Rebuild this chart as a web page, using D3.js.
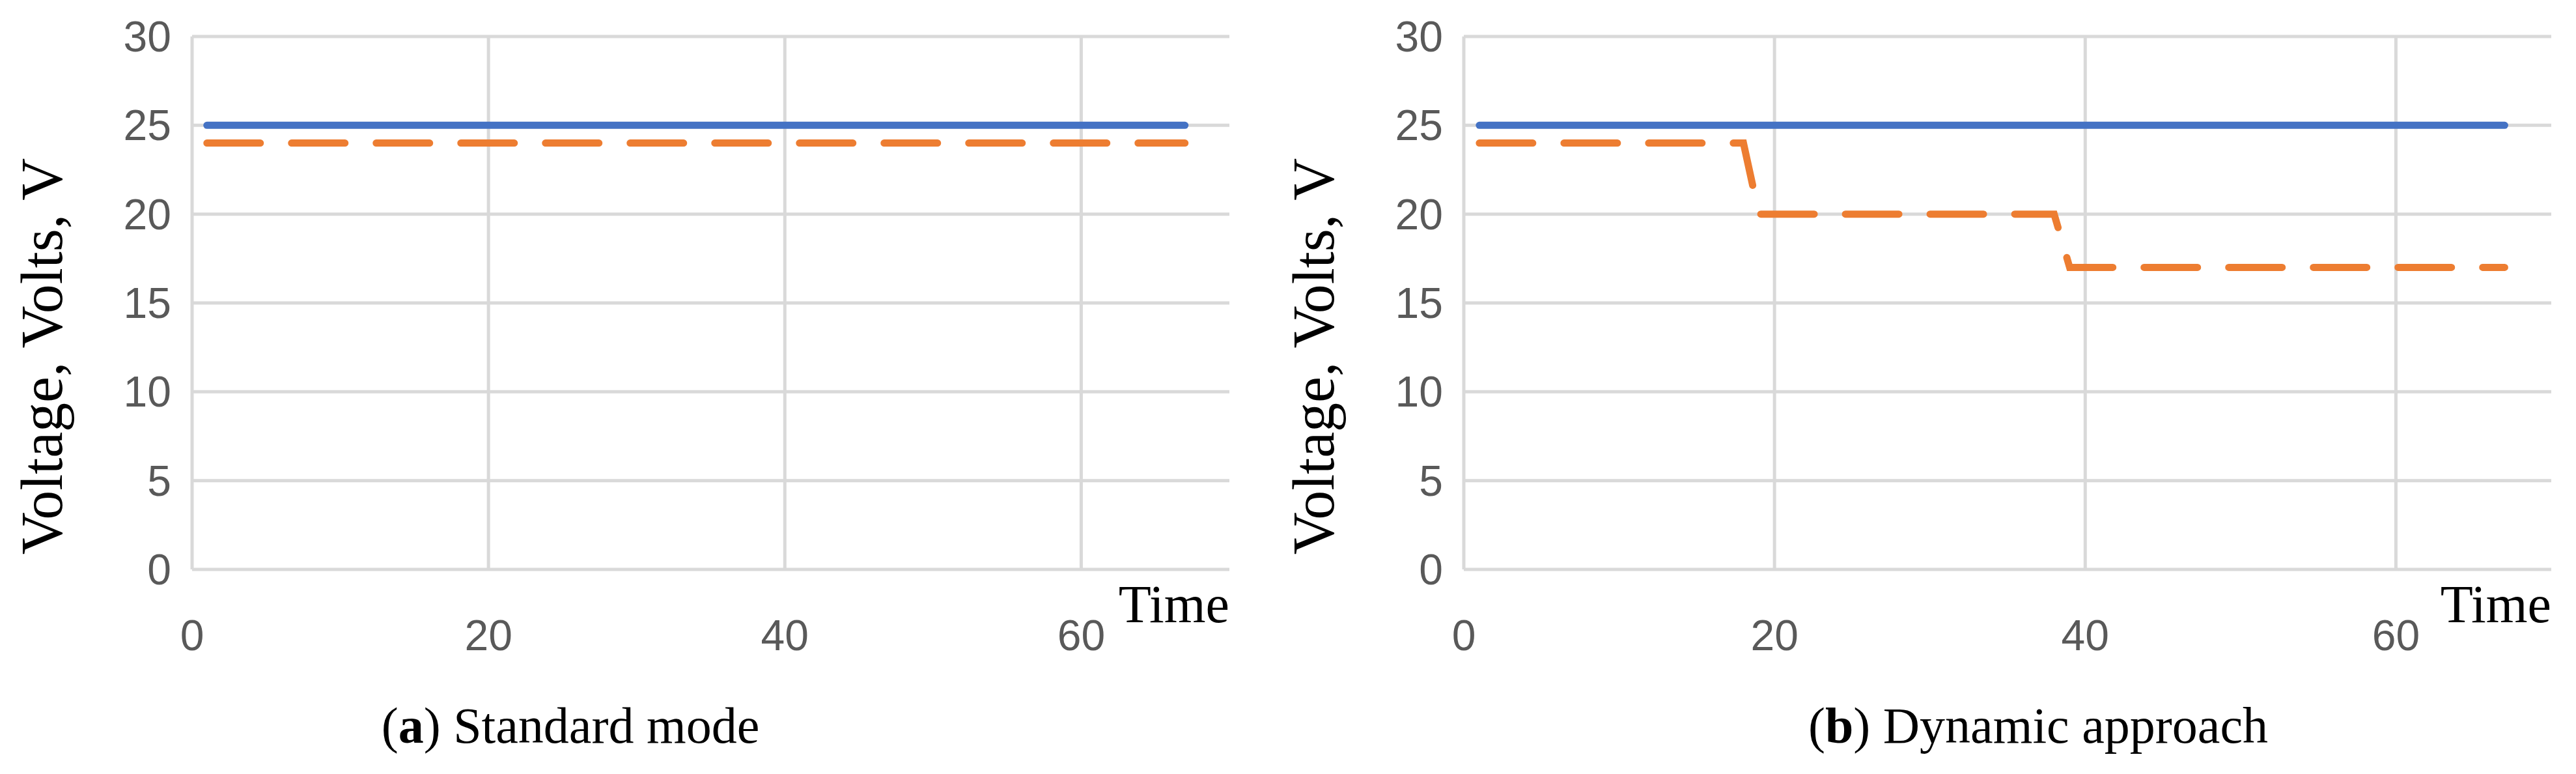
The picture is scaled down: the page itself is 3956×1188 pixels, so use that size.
<!DOCTYPE html>
<html><head><meta charset="utf-8">
<script src="https://cdn.jsdelivr.net/npm/d3@7"></script>
<style>body{margin:0;background:#fff;}</style>
</head><body>
<div id="chart"></div>
<script>
// data
var yTicks = [0, 5, 10, 15, 20, 25, 30];
var xTicks = [0, 20, 40, 60];
var supplyA = [{t: 1, v: 25}, {t: 67, v: 25}];
var outputA = [{t: 1, v: 24}, {t: 67, v: 24}];
var supplyB = [{t: 1, v: 25}, {t: 67, v: 25}];
var outputB = [{t: 1, v: 24}, {t: 18, v: 24}, {t: 19, v: 20}, {t: 38, v: 20}, {t: 39, v: 17}, {t: 67, v: 17}];

var svg = d3.select("#chart").append("svg")
    .attr("width", 3956).attr("height", 1188);

function panel(left, right, capX, supply, output, letter, caption) {
    var top = 56, bottom = 874;
    var x = d3.scaleLinear().domain([0, 70]).range([left, right]);
    var y = d3.scaleLinear().domain([0, 30]).range([bottom, top]);
    var g = svg.append("g");

    // grid
    g.selectAll(".hg").data(yTicks).enter().append("line")
        .attr("x1", left).attr("x2", right)
        .attr("y1", function(d){ return y(d); }).attr("y2", function(d){ return y(d); })
        .attr("stroke", "#d9d9d9").attr("stroke-width", 5);
    g.selectAll(".vg").data(xTicks).enter().append("line")
        .attr("x1", function(d){ return x(d); }).attr("x2", function(d){ return x(d); })
        .attr("y1", top).attr("y2", bottom)
        .attr("stroke", "#d9d9d9").attr("stroke-width", 5);

    // tick labels
    g.selectAll(".yl").data(yTicks).enter().append("text")
        .attr("x", left - 32).attr("y", function(d){ return y(d); })
        .attr("dy", "0.35em").attr("text-anchor", "end")
        .attr("font-family", "Liberation Sans Narrow, Liberation Sans, sans-serif")
        .attr("font-size", 66).attr("fill", "#595959")
        .text(function(d){ return d; });
    g.selectAll(".xl").data(xTicks).enter().append("text")
        .attr("x", function(d){ return x(d); }).attr("y", 975)
        .attr("dy", "0.35em").attr("text-anchor", "middle")
        .attr("font-family", "Liberation Sans Narrow, Liberation Sans, sans-serif")
        .attr("font-size", 66).attr("fill", "#595959")
        .text(function(d){ return d; });

    var line = d3.line()
        .x(function(d){ return x(d.t); })
        .y(function(d){ return y(d.v); });

    g.append("path").datum(supply).attr("d", line)
        .attr("fill", "none").attr("stroke", "#4472C4")
        .attr("stroke-width", 11).attr("stroke-linecap", "round");
    g.append("path").datum(output).attr("d", line)
        .attr("fill", "none").attr("stroke", "#ED7D31")
        .attr("stroke-width", 11).attr("stroke-linecap", "round")
        .attr("stroke-dasharray", "82,48");

    // axis titles
    g.append("text")
        .attr("transform", "translate(" + (left - 200) + "," + 547 + ") rotate(-90)")
        .attr("text-anchor", "middle")
        .attr("font-family", "Liberation Serif, serif")
        .attr("font-size", 90).attr("fill", "#000")
        .text("Voltage, Volts, V");
    g.append("text")
        .attr("x", right).attr("y", 955).attr("text-anchor", "end")
        .attr("font-family", "Liberation Serif, serif")
        .attr("font-size", 82).attr("fill", "#000")
        .text("Time");

    var cap = g.append("text")
        .attr("x", capX).attr("y", 1140).attr("text-anchor", "middle")
        .attr("font-family", "Liberation Serif, serif")
        .attr("font-size", 78).attr("fill", "#000");
    cap.append("tspan").text("(");
    cap.append("tspan").attr("font-weight", "bold").text(letter);
    cap.append("tspan").text(") " + caption);
}

panel(295, 1888, 876, supplyA, outputA, "a", "Standard mode");
panel(2248, 3918, 3130, supplyB, outputB, "b", "Dynamic approach");
</script>
</body></html>
